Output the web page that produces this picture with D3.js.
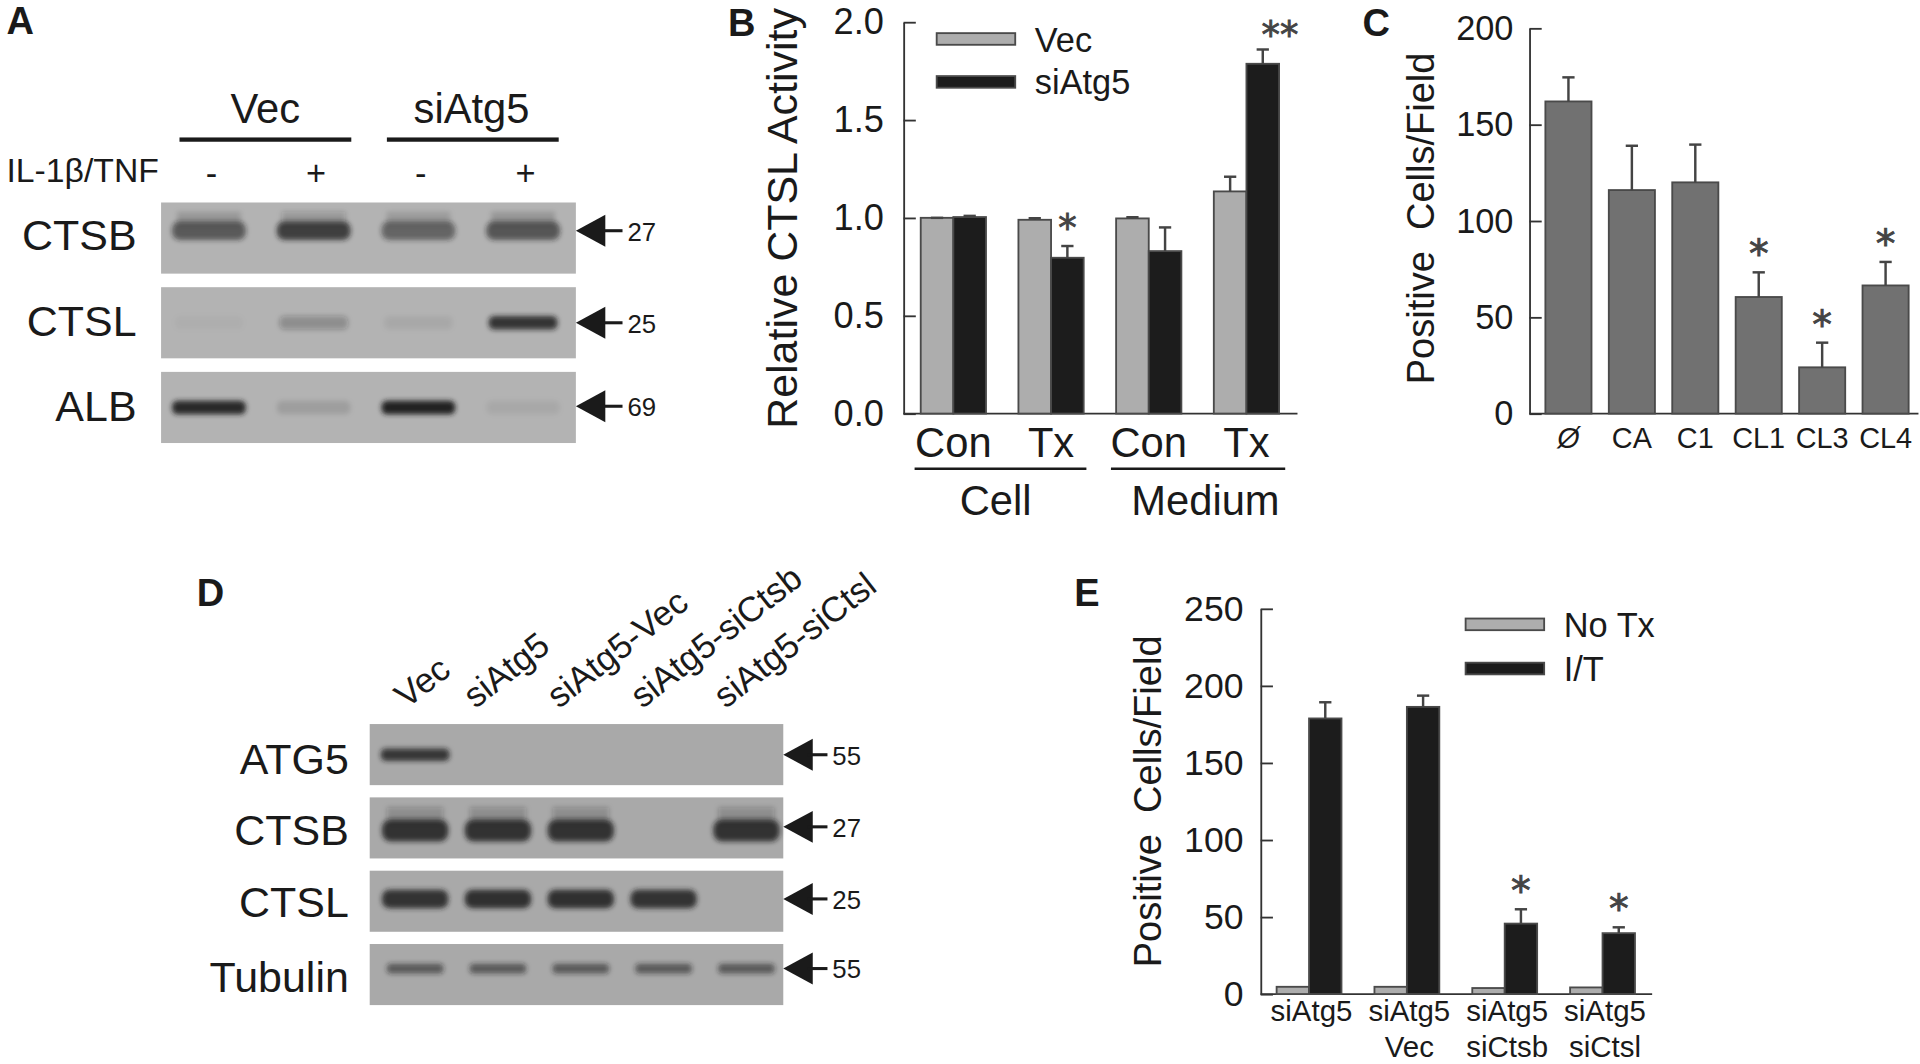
<!DOCTYPE html>
<html>
<head>
<meta charset="utf-8">
<style>
  html, body { margin: 0; padding: 0; background: #fff; }
  svg { display: block; }
  text { font-family: "Liberation Sans", Arial, sans-serif; fill: #1a1a1a; }
  .tick line, .domain { stroke: #333; stroke-width: 1.5; }
</style>
<script src="https://cdn.jsdelivr.net/npm/d3@7"></script>
</head>
<body>
<svg id="fig" width="1920" height="1064" viewBox="0 0 1564 867"></svg>
<script>
// panel A blot
var aLanes = ["Vec-", "Vec+", "siAtg5-", "siAtg5+"];
var aRows = ["CTSB", "CTSL", "ALB"];
var aSizes = ["27", "25", "69"];
var aBands = [
  [0.62, 0.78, 0.55, 0.64],
  [0.03, 0.26, 0.06, 0.85],
  [0.95, 0.12, 1.0, 0.06]
];

// panel B
var bGroups = ["Con1", "Tx1", "Con2", "Tx2"];
var bGroupLabels = ["Con", "Tx", "Con", "Tx"];
var bSeries = ["Vec", "siAtg5"];
var bVec = [1.0, 0.99, 0.997, 1.135];
var bVecTop = [1.0, 0.998, 1.003, 1.21];
var bSi = [1.004, 0.796, 0.83, 1.787];
var bSiTop = [1.01, 0.856, 0.951, 1.86];
var bTicks = [0, 0.5, 1, 1.5, 2];

// panel C
var cLabels = ["Ø", "CA", "C1", "CL1", "CL3", "CL4"];
var cValues = [162, 116, 120, 60.5, 24, 66.5];
var cTops = [174.5, 139, 139.6, 73.3, 36.8, 78.7];
var cStars = [0, 0, 0, 1, 1, 1];
var cTicks = [0, 50, 100, 150, 200];

// panel D blot
var dLanes = ["Vec", "siAtg5", "siAtg5-Vec", "siAtg5-siCtsb", "siAtg5-siCtsl"];
var dRows = ["ATG5", "CTSB", "CTSL", "Tubulin"];
var dSizes = ["55", "27", "25", "55"];
var dBands = [
  [0.82, 0, 0, 0, 0],
  [0.85, 0.85, 0.85, 0, 0.85],
  [0.88, 0.86, 0.86, 0.88, 0],
  [0.6, 0.6, 0.6, 0.6, 0.6]
];

// panel E
var eGroups = ["siAtg5", "siAtg5 Vec", "siAtg5 siCtsb", "siAtg5 siCtsl"];
var eSeries = ["No Tx", "I/T"];
var eNoTx = [4.7, 4.7, 3.9, 4.3];
var eIT = [178.8, 186.3, 45.7, 39.5];
var eITTop = [189.3, 193.6, 55, 43.3];
var eStars = [0, 0, 1, 1];
var eTicks = [0, 50, 100, 150, 200, 250];

var svg = d3.select("#fig");
var GREY = "#adadad", BLACK = "#1c1c1c", EDGE = "#4a4a4a";

svg.append("defs").append("filter")
    .attr("id", "soft")
    .attr("x", "-20%").attr("y", "-80%")
    .attr("width", "140%").attr("height", "260%")
  .append("feGaussianBlur")
    .attr("stdDeviation", 2.2);

function label(x, y, str, size, anchor, weight) {
  return svg.append("text")
      .attr("x", x)
      .attr("y", y)
      .attr("font-size", size)
      .attr("text-anchor", anchor || "middle")
      .attr("font-weight", weight || "normal")
      .text(str);
}

function yLabel(x, y, str, size) {
  svg.append("text")
      .attr("transform", "translate(" + x + "," + y + ") rotate(-90)")
      .attr("font-size", size)
      .attr("text-anchor", "middle")
      .style("white-space", "pre")
      .text(str);
}

function leftAxis(x, y, ticks, fmt, size, pad, right) {
  var g = svg.append("g")
      .attr("transform", "translate(" + x + ",0)")
      .call(d3.axisLeft(y).tickValues(ticks).tickFormat(fmt)
        .tickSize(-10).tickSizeOuter(0).tickPadding(pad));
  g.selectAll("text")
      .attr("font-size", size)
      .attr("font-family", "Liberation Sans")
      .style("fill", "#1a1a1a");
  g.append("line")
      .attr("x1", 0).attr("x2", right - x)
      .attr("y1", y(0)).attr("y2", y(0))
      .attr("stroke", "#333").attr("stroke-width", 1.5);
}

function errorBars(x, y, tops, vals, capW) {
  var g = svg.append("g").attr("stroke", "#444").attr("stroke-width", 2);
  tops.forEach(function(t, i) {
    g.append("line")
        .attr("x1", x(i)).attr("x2", x(i))
        .attr("y1", y(vals[i])).attr("y2", y(t));
    g.append("line")
        .attr("x1", x(i) - capW).attr("x2", x(i) + capW)
        .attr("y1", y(t)).attr("y2", y(t));
  });
}

function star(x, y, str, size) {
  label(x, y, str, size)
      .style("font-family", "DejaVu Sans")
      .style("fill", "#444")
      .style("stroke", "#444")
      .style("stroke-width", 0.7);
}

function stars(x, y, tops, flags, str, size) {
  tops.forEach(function(t, i) {
    if (!flags[i]) return;
    star(x(i), y(t) - 4, str, size);
  });
}

function legend(x, ys, names) {
  names.forEach(function(n, i) {
    svg.append("rect")
        .attr("x", x).attr("y", ys[i] - 5)
        .attr("width", 64).attr("height", 9.5)
        .attr("fill", i ? BLACK : GREY)
        .attr("stroke", EDGE).attr("stroke-width", 1.5);
    label(x + 80, ys[i] + 10, n, 28, "start");
  });
}

function blot(rows, lanes, bands, sizes, o) {
  var yRow = d3.scaleBand().domain(rows).range(o.yRange).paddingInner(o.gap);
  var xLane = d3.scalePoint().domain(lanes).range(o.laneRange);
  var alpha = d3.scaleLinear().domain([0, 1]).range([0, 0.97]);

  rows.forEach(function(r, i) {
    var top = yRow(r), mid = top + o.bandY[i];
    svg.append("rect")
        .attr("x", o.x0).attr("y", top)
        .attr("width", o.x1 - o.x0).attr("height", yRow.bandwidth())
        .attr("fill", o.gel);

    // smear above the band, only on the heavy rows
    if (o.smear[i]) {
      svg.append("g").attr("filter", "url(#soft)")
        .selectAll("rect")
        .data(bands[i])
        .enter().append("rect")
          .attr("x", function(d, j) { return xLane(lanes[j]) - o.bandW[i] / 2 + 4; })
          .attr("y", mid - o.bandH[i] / 2 - o.smear[i])
          .attr("width", o.bandW[i] - 8)
          .attr("height", o.smear[i] + 4)
          .attr("fill", "#1c1c1c")
          .attr("opacity", function(d) { return alpha(d) * 0.25; });
    }

    svg.append("g").attr("filter", "url(#soft)")
      .selectAll("rect")
      .data(bands[i])
      .enter().append("rect")
        .attr("x", function(d, j) { return xLane(lanes[j]) - o.bandW[i] / 2; })
        .attr("y", mid - o.bandH[i] / 2)
        .attr("width", o.bandW[i])
        .attr("height", o.bandH[i])
        .attr("rx", o.bandH[i] / 2.5)
        .attr("fill", "#1c1c1c")
        .attr("opacity", function(d) { return alpha(d); });

    label(o.labelX, top + o.labelY[i], r, 35, "end");

    // size marker
    var ay = top + o.arrowY[i];
    svg.append("path")
        .attr("d", "M" + o.x1 + "," + ay + "l24,-13v26z")
        .attr("fill", "#1a1a1a");
    svg.append("line")
        .attr("x1", o.x1 + 20).attr("x2", o.x1 + o.arrowLen)
        .attr("y1", ay).attr("y2", ay)
        .attr("stroke", "#1a1a1a").attr("stroke-width", 2.5);
    label(o.x1 + o.arrowLen + 4, ay + 8, sizes[i], 21, "start");
  });
}

// ---- A
label(5, 28, "A", 31, "start", "bold");
label(216, 100, "Vec", 34);
label(384, 100, "siAtg5", 34);
svg.append("rect").attr("x", 146).attr("y", 112).attr("width", 140).attr("height", 3.5).attr("fill", "#1a1a1a");
svg.append("rect").attr("x", 315).attr("y", 112).attr("width", 140).attr("height", 3.5).attr("fill", "#1a1a1a");
label(5, 148, "IL-1β/TNF", 27.5, "start");
var aSigns = ["-", "+", "-", "+"];
var aSignX = d3.scalePoint().domain(aLanes).range([172, 428]);
aLanes.forEach(function(l, i) { label(aSignX(l), 151, aSigns[i], 28); });
blot(aRows, aLanes, aBands, aSizes, {
  x0: 131, x1: 469, yRange: [165, 361], gap: 0.16, gel: "#b3b3b3",
  laneRange: [170, 426], bandW: [60, 56, 60],
  bandH: [15, 11, 11], bandY: [23, 29, 29], smear: [8, 0, 0],
  labelX: 111, labelY: [39, 40, 40], arrowY: [23, 29, 28], arrowLen: 38
});

// ---- B
label(593, 29, "B", 31, "start", "bold");
yLabel(649, 178, "Relative CTSL Activity", 35);
var bY = d3.scaleLinear().domain([0, 2]).range([337, 18]);
var bX0 = d3.scaleBand().domain(bGroups).range([750, 1042]).paddingInner(0.332);
var bX1 = d3.scaleBand().domain(bSeries).range([0, bX0.bandwidth()]);
leftAxis(736, bY, bTicks, d3.format(".1f"), 29.5, 16, 1057);
[bVec, bSi].forEach(function(vals, s) {
  svg.append("g").selectAll("rect").data(vals).enter().append("rect")
      .attr("x", function(d, i) { return bX0(bGroups[i]) + bX1(bSeries[s]); })
      .attr("y", function(d) { return bY(d); })
      .attr("width", bX1.bandwidth())
      .attr("height", function(d) { return bY(0) - bY(d); })
      .attr("fill", s ? BLACK : GREY)
      .attr("stroke", EDGE).attr("stroke-width", 1.5);
  errorBars(function(i) { return bX0(bGroups[i]) + bX1(bSeries[s]) + bX1.bandwidth() / 2; },
    bY, s ? bSiTop : bVecTop, vals, 5);
});
var bStarX = function(i) { return bX0(bGroups[i]) + bX1("siAtg5") + bX1.bandwidth() / 2; };
stars(bStarX, bY, bSiTop, [0, 1, 0, 0], "*", 30);
star(bStarX(3) + 14, 39, "**", 30);
legend(763, [32, 67], bSeries);
bGroupLabels.forEach(function(l, i) {
  label(bX0(bGroups[i]) + bX0.bandwidth() / 2, 372, l, 34);
});
svg.append("line").attr("x1", 745).attr("x2", 885).attr("y1", 382).attr("y2", 382).attr("stroke", "#1a1a1a").attr("stroke-width", 2);
svg.append("line").attr("x1", 905).attr("x2", 1047).attr("y1", 382).attr("y2", 382).attr("stroke", "#1a1a1a").attr("stroke-width", 2);
label(811, 420, "Cell", 34);
label(982, 420, "Medium", 34);

// ---- C
label(1110, 29, "C", 31, "start", "bold");
yLabel(1168, 178, "Positive  Cells/Field", 31);
var cY = d3.scaleLinear().domain([0, 200]).range([337, 23]);
var cX = d3.scaleBand().domain(cLabels).range([1259, 1555]).paddingInner(0.273);
leftAxis(1246, cY, cTicks, d3.format("d"), 28, 13, 1563);
svg.append("g").selectAll("rect").data(cValues).enter().append("rect")
    .attr("x", function(d, i) { return cX(cLabels[i]); })
    .attr("y", function(d) { return cY(d); })
    .attr("width", cX.bandwidth())
    .attr("height", function(d) { return cY(0) - cY(d); })
    .attr("fill", "#717171")
    .attr("stroke", EDGE).attr("stroke-width", 1.5);
var cMid = function(i) { return cX(cLabels[i]) + cX.bandwidth() / 2; };
errorBars(cMid, cY, cTops, cValues, 5);
stars(cMid, cY, cTops, cStars, "*", 32);
cLabels.forEach(function(l, i) {
  label(cMid(i), 365, l, 23.5).style("font-style", i ? "normal" : "italic");
});

// ---- D
label(160, 494, "D", 31, "start", "bold");
blot(dRows, dLanes, dBands, dSizes, {
  x0: 301, x1: 638, yRange: [590, 819], gap: 0.167, gel: "#a9a9a9",
  laneRange: [338, 608], bandW: [56, 54, 54, 46],
  bandH: [10, 18, 15, 8], bandY: [25, 27, 23, 20], smear: [0, 10, 0, 0],
  labelX: 284, labelY: [41, 39, 38, 39], arrowY: [25, 24, 23, 20], arrowLen: 36
});
var dLabelX = d3.scalePoint().domain(dLanes).range([319, 591]);
dLanes.forEach(function(l, i) {
  svg.append("text")
      .attr("transform", "translate(" + (dLabelX(l) + (i ? 0 : 12)) + ",578) rotate(-38)")
      .attr("font-size", 28.5)
      .text(l);
});

// ---- E
label(875, 494, "E", 31, "start", "bold");
yLabel(946, 653, "Positive  Cells/Field", 31);
var eY = d3.scaleLinear().domain([0, 250]).range([810, 496]);
var eX0 = d3.scaleBand().domain(eGroups).range([1040, 1332]).paddingInner(0.337);
var eX1 = d3.scaleBand().domain(eSeries).range([0, eX0.bandwidth()]);
leftAxis(1027, eY, eTicks, d3.format("d"), 29, 14, 1346);
[eNoTx, eIT].forEach(function(vals, s) {
  svg.append("g").selectAll("rect").data(vals).enter().append("rect")
      .attr("x", function(d, i) { return eX0(eGroups[i]) + eX1(eSeries[s]); })
      .attr("y", function(d) { return eY(d); })
      .attr("width", eX1.bandwidth())
      .attr("height", function(d) { return eY(0) - eY(d); })
      .attr("fill", s ? BLACK : GREY)
      .attr("stroke", EDGE).attr("stroke-width", 1.5);
});
var eMid = function(i) { return eX0(eGroups[i]) + eX1("I/T") + eX1.bandwidth() / 2; };
errorBars(eMid, eY, eITTop, eIT, 5);
stars(eMid, eY, eITTop, eStars, "*", 32);
legend(1194, [509, 545], eSeries);
eGroups.forEach(function(l, i) {
  var parts = l.split(" ");
  parts.forEach(function(p, j) {
    label(eX0(l) + eX0.bandwidth() / 2 + 2, 832 + j * 29, p, 24);
  });
});
</script>
</body>
</html>
